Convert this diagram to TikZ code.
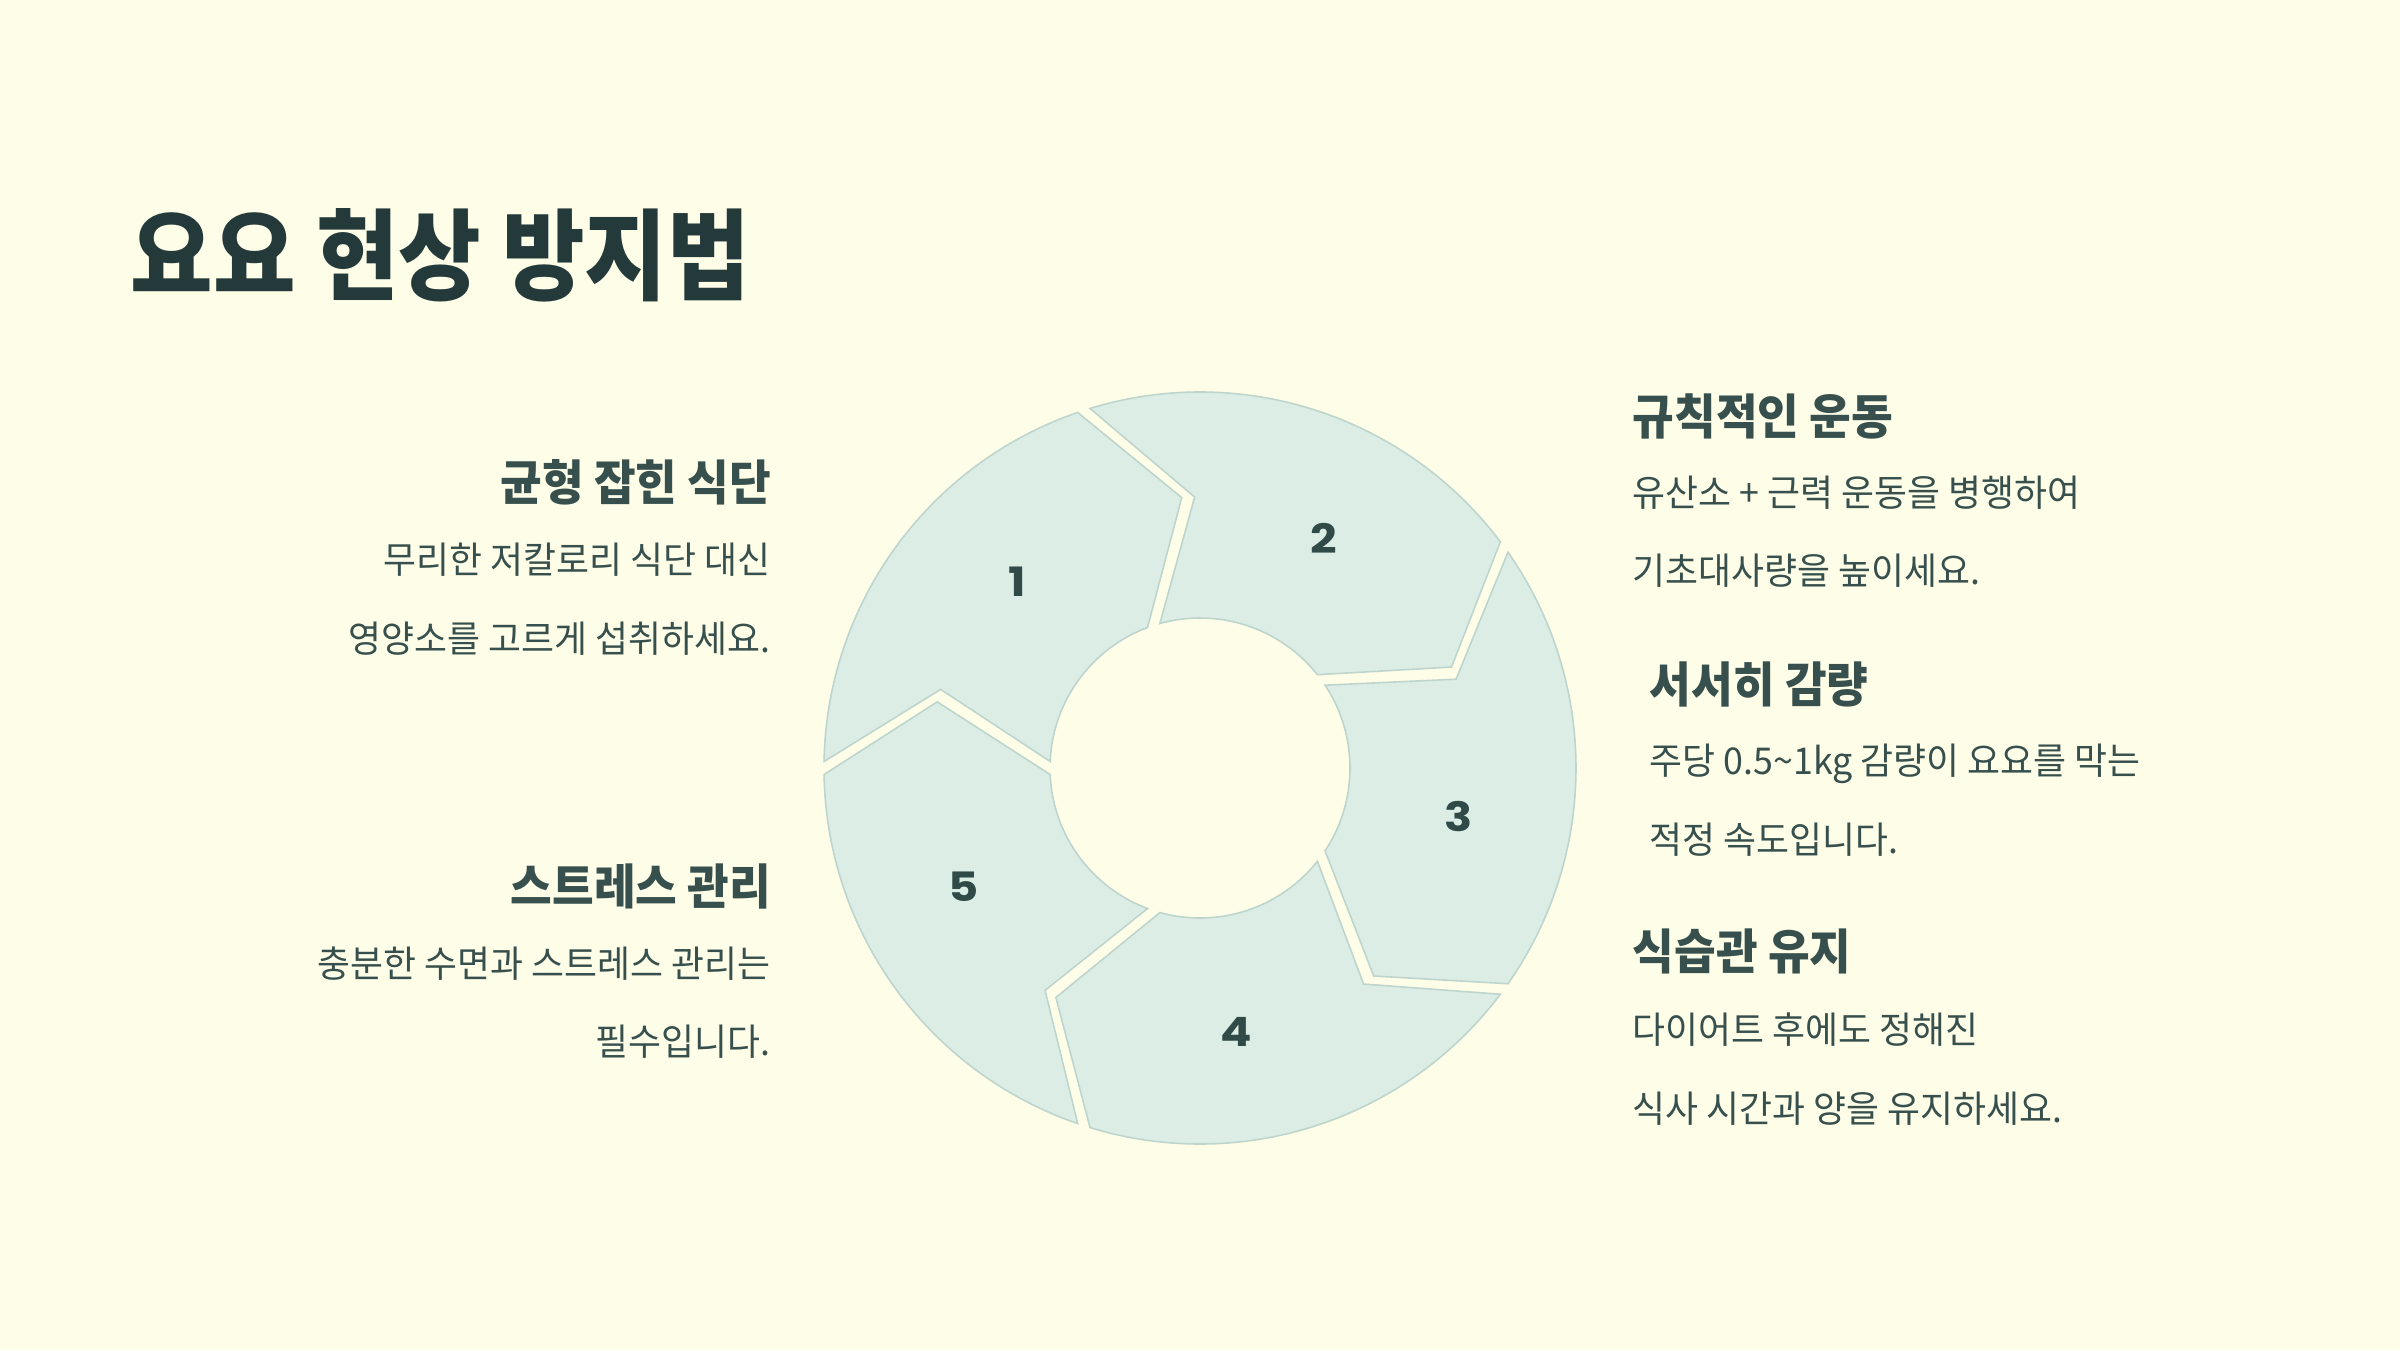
\documentclass[tikz,border=0pt]{standalone}
\usepackage{fontspec}
\setmainfont{Noto Sans CJK KR}
\newfontfamily\ttlfamily{Noto Sans CJK KR}[FakeStretch=0.905]
\newfontfamily\hdfamily{Noto Sans CJK KR}[FakeStretch=0.94]
\newfontfamily\bdfamily{Noto Sans CJK KR}[FakeStretch=0.97]
\newfontfamily\numfamily{Poppins}[FakeStretch=1.15]
\definecolor{bg}{HTML}{FEFDE8}
\definecolor{segfill}{HTML}{DCEDE6}
\definecolor{segline}{HTML}{BDD5CC}
\definecolor{ttl}{HTML}{23393A}
\definecolor{txt}{HTML}{37504D}
\definecolor{num}{HTML}{2F4A47}
\newcommand\ttlfont{\ttlfamily\bfseries\fontsize{28.2pt}{34pt}\selectfont}
\newcommand\hdfont{\hdfamily\bfseries\fontsize{13.7pt}{16pt}\selectfont}
\newcommand\bdfont{\bdfamily\fontsize{10.5pt}{13pt}\selectfont}
\newcommand\nmfont{\numfamily\bfseries\fontsize{11.5pt}{13pt}\selectfont}
\def\cx{1200}\def\cy{582}\def\Rout{376}\def\Rin{150}\def\Rtip{271}
\newcommand\seg[1]{%
  \draw[segstyle] ({\cx+\Rout*cos(#1-0.99)},{\cy+\Rout*sin(#1-0.99)})
    arc[start angle={#1-0.99}, end angle={#1-72+0.99}, radius=\Rout]
    -- ({\cx+\Rtip*cos(#1-72-15.5+1.37)},{\cy+\Rtip*sin(#1-72-15.5+1.37)})
    -- ({\cx+\Rin*cos(#1-72+2.48)},{\cy+\Rin*sin(#1-72+2.48)})
    arc[start angle={#1-72+2.48}, end angle={#1-2.48}, radius=\Rin]
    -- ({\cx+\Rtip*cos(#1-15.5-1.37)},{\cy+\Rtip*sin(#1-15.5-1.37)})
    -- cycle;}
\tikzset{
  segstyle/.style={fill=segfill, draw=segline, line width=0.45pt},
  ttlstyle/.style={font=\ttlfont, text=ttl, inner sep=0pt},
  hd/.style={font=\hdfont, text=txt, inner sep=0pt},
  bd/.style={font=\bdfont, text=txt, inner sep=0pt},
  nm/.style={font=\nmfont, text=num, inner sep=0pt},
}
\begin{document}
\begin{tikzpicture}[x=0.01cm,y=0.01cm]
\fill[bg] (0,0) rectangle (2400,1350);
\useasboundingbox (0,0) rectangle (2400,1350);

\node[ttlstyle, anchor=base west] (title) at (130,1058) {요요 현상 방지법};

% ring
\seg{180}
\seg{108}
\seg{36}
\seg{-36}
\seg{-108}

\node[nm] (n1) at ({\cx+263*cos(134)},{\cy+263*sin(134)-3}) {1};
\node[nm] (n2) at ({\cx+263*cos(62)},{\cy+263*sin(62)-3}) {2};
\node[nm] (n3) at ({\cx+263*cos(-10)},{\cy+263*sin(-10)-3}) {3};
\node[nm] (n4) at ({\cx+263*cos(-82)},{\cy+263*sin(-82)-3}) {4};
\node[nm] (n5) at ({\cx+263*cos(-154)},{\cy+263*sin(-154)-3}) {5};

% left blocks
\node[hd, anchor=base east] (l1h) at (772,850) {균형 잡힌 식단};
\node[bd, anchor=base east] (l1a) at (771,777) {무리한 저칼로리 식단 대신};
\node[bd, anchor=base east] (l1b) at (771,698) {영양소를 고르게 섭취하세요.};

\node[hd, anchor=base east] (l2h) at (772,446) {스트레스 관리};
\node[bd, anchor=base east] (l2a) at (771,373) {충분한 수면과 스트레스 관리는};
\node[bd, anchor=base east] (l2b) at (771,295) {필수입니다.};

% right blocks
\node[hd, anchor=base west] (r1h) at (1632,916) {규칙적인 운동};
\node[bd, anchor=base west] (r1a) at (1632,844) {유산소 + 근력 운동을 병행하여};
\node[bd, anchor=base west] (r1b) at (1632,766) {기초대사량을 높이세요.};

\node[hd, anchor=base west] (r2h) at (1649,648) {서서히 감량};
\node[bd, anchor=base west] (r2a) at (1649,576) {주당 0.5\textasciitilde1kg 감량이 요요를 막는};
\node[bd, anchor=base west] (r2b) at (1649,497) {적정 속도입니다.};

\node[hd, anchor=base west] (r3h) at (1632,381) {식습관 유지};
\node[bd, anchor=base west] (r3a) at (1632,307) {다이어트 후에도 정해진};
\node[bd, anchor=base west] (r3b) at (1632,228) {식사 시간과 양을 유지하세요.};
\end{tikzpicture}
\end{document}
